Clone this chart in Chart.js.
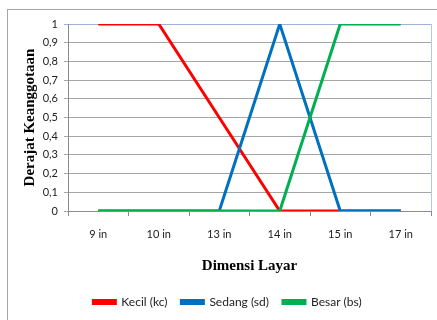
<!DOCTYPE html>
<html>
<head>
<meta charset="utf-8">
<script src="https://cdn.jsdelivr.net/npm/chart.js@4/dist/chart.umd.min.js"></script>
<style>
  html, body { margin: 0; padding: 0; background: #fff; }
  #wrap { position: relative; width: 437px; height: 320px; overflow: hidden; }
  #frame { position: absolute; left: 7px; top: 9px; width: 460px; height: 340px;
           border-left: 1px solid #a6a6a6; border-top: 1px solid #a6a6a6; pointer-events: none; }
  canvas { position: absolute; left: 0; top: 0; }
</style>
</head>
<body>
<div id="wrap">
  <canvas id="grafico" width="437" height="320"></canvas>
  <div id="frame"></div>
</div>
<script>
  // Dados
  const kategori = ['9 in', '10 in', '13 in', '14 in', '15 in', '17 in'];
  const kecil = [1, 1, 0.5, 0, 0, 0];
  const sedang = [0, 0, 0, 1, 0, 0];
  const besar = [0, 0, 0, 0, 1, 1];

  const namaSeri = ['Kecil (kc)', 'Sedang (sd)', 'Besar (bs)'];
  const warnaSeri = ['#ff0000', '#0070c0', '#00b050'];

  // borda direita azulada da área do gráfico + legenda um pouco à direita
  const ajustes = {
    id: 'ajustes',
    afterLayout(chart) {
      if (chart.legend) {
        chart.legend.left += 12;
        chart.legend.right += 12;
      }
    },
    afterDraw(chart) {
      const { ctx, chartArea } = chart;
      ctx.save();
      ctx.strokeStyle = '#b9c7e4';
      ctx.lineWidth = 1;
      ctx.beginPath();
      ctx.moveTo(chartArea.right + 0.5, chartArea.top);
      ctx.lineTo(chartArea.right + 0.5, chartArea.bottom);
      ctx.stroke();
      ctx.restore();
    }
  };

  // a última série fica por cima (como no Excel)
  function serie(label, data, cor, ordem) {
    return {
      label,
      data,
      order: ordem,
      borderColor: cor,
      backgroundColor: cor,
      borderWidth: 3,
      pointRadius: 0,
      tension: 0,
      fill: false,
    };
  }

  const ctx = document.getElementById('grafico').getContext('2d');
  new Chart(ctx, {
    type: 'line',
    data: {
      labels: kategori,
      datasets: [
        serie(namaSeri[0], kecil, warnaSeri[0], 3),
        serie(namaSeri[1], sedang, warnaSeri[1], 2),
        serie(namaSeri[2], besar, warnaSeri[2], 1),
      ],
    },
    options: {
      responsive: false,
      animation: false,
      layout: { padding: { left: 0, right: 6, top: 24, bottom: 2 } },
      plugins: {
        legend: {
          position: 'bottom',
          reverse: true,
          labels: {
            boxWidth: 22,
            boxHeight: 3,
            padding: 14,
            color: '#222',
            font: { family: 'Lato', size: 12 },
          },
        },
        tooltip: { enabled: false },
      },
      scales: {
        x: {
          offset: true,
          afterFit: (s) => { s.height = 71; },
          grid: { offset: true, drawOnChartArea: false, tickLength: 5, color: '#8c8c8c' },
          border: { color: '#8c8c8c' },
          ticks: { padding: 12, color: '#222', font: { family: 'Lato', size: 11 }, maxRotation: 0 },
          title: {
            display: true,
            text: 'Dimensi Layar',
            color: '#000',
            font: { family: 'Liberation Serif', size: 15, weight: 'bold' },
            padding: { top: 10, bottom: 7 },
          },
        },
        y: {
          min: 0,
          max: 1,
          afterFit: (s) => { s.width = 68; },
          ticks: {
            stepSize: 0.1,
            padding: 6,
            color: '#222',
            font: { family: 'Lato', size: 11 },
            callback: (v) => String(Math.round(v * 10) / 10).replace('.', ','),
          },
          grid: {
            tickLength: 4,
            color: (c) => (c.tick && c.tick.value === 1 ? '#9fb1d6' : '#a6a6a6'),
          },
          border: { color: '#8c8c8c' },
          title: {
            display: true,
            text: 'Derajat Keanggotaan',
            color: '#000',
            font: { family: 'Liberation Serif', size: 15, weight: 'bold' },
            padding: { top: 21, bottom: 6 },
          },
        },
      },
    },
    plugins: [ajustes],
  });
</script>
</body>
</html>
